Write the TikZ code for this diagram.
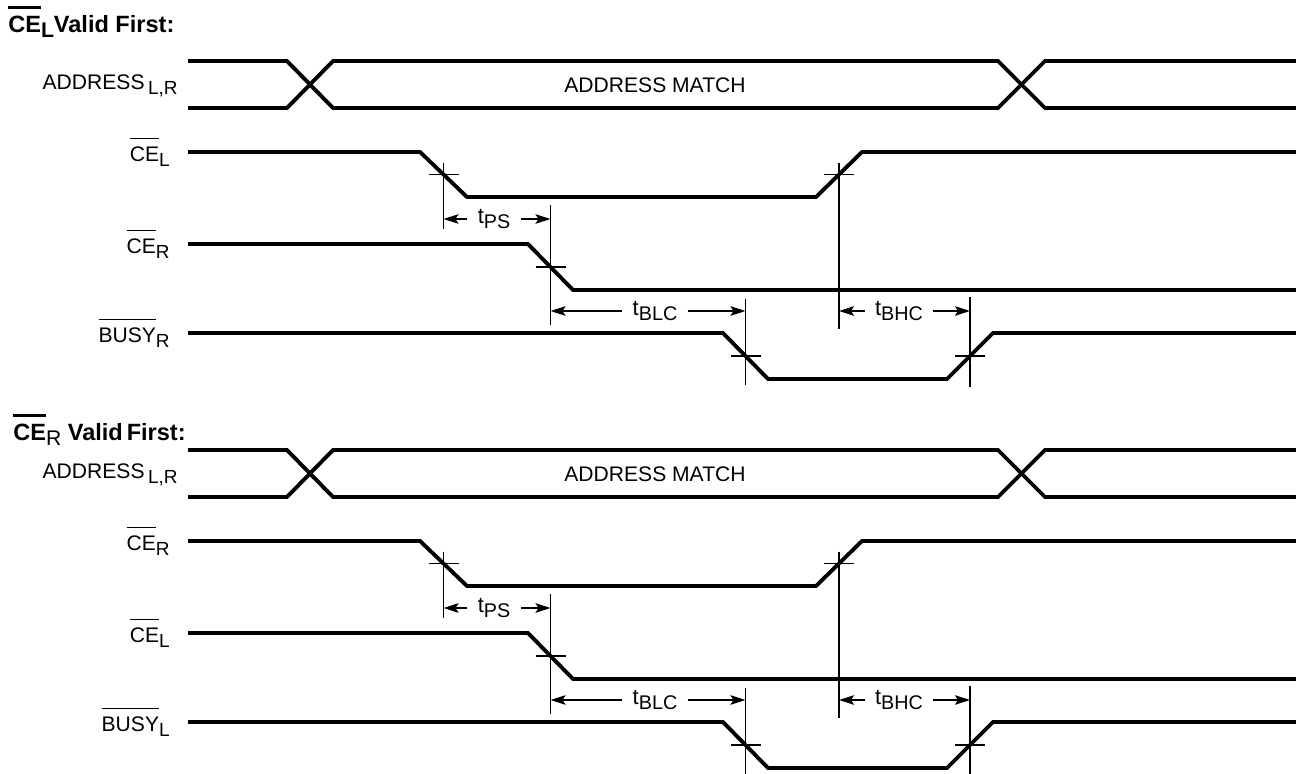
\documentclass[tikz,border=0pt]{standalone}
\usepackage{fontspec}
\setmainfont{Liberation Sans}
\usetikzlibrary{arrows.meta, calc}
\newcommand{\ovl}[2][0.9pt]{\leavevmode\vbox{\hrule height #1\kern 4pt\hbox{#2}}}
\newcommand{\lo}[1]{\raisebox{-0.45ex}{\scalebox{0.9}{#1}}}
\tikzstyle{sigline} = [line width=2.2pt]
\tikzstyle{tickline} = [line width=0.9pt]
\tikzstyle{arrow} = [line width=0.9pt, -{Stealth[length=0.3cm, width=0.19cm, inset=0.06cm]}]
\tikzstyle{siglbl} = [
    anchor=base east, inner sep=0pt,
    font=\fontsize{12}{14}\selectfont]
\tikzstyle{dimlbl} = [
    inner xsep=0.2cm, inner ysep=0pt,
    font=\fontsize{12.5}{14}\selectfont]
\tikzstyle{heading} = [
    anchor=base west, inner sep=0pt,
    font=\bfseries\fontsize{13.4}{15}\selectfont]

\begin{document}
\begin{tikzpicture}[x=0.02cm, y=-0.02cm]
    \useasboundingbox (0,0) rectangle (1296,774);

    \node (head1) [heading] at (8,32) {\ovl[1.4pt]{CE}\lo{L}Valid First:};
    \node (head2) [heading] at (13,440) {\ovl[1.4pt]{CE}\lo{\mdseries R} Valid\,First:};

    \foreach \dy/\sa/\sb [count=\i] in {0/L/R, 389/R/L} {
    \begin{scope}[shift={(0,\dy)}]
        % signal names
        \node (addr\i) [siglbl] at (178,89) {ADDRESS\,\lo{L,R}};
        \node (cea\i) [siglbl] at (170,161) {\ovl{CE}\lo{\sa}};
        \node (ceb\i) [siglbl] at (170,253) {\ovl{CE}\lo{\sb}};
        \node (busy\i) [siglbl] at (170,342) {\ovl{BUSY}\lo{\sb}};
        \node (match\i) [font=\fontsize{12}{14}\selectfont] at (655,85) {ADDRESS MATCH};

        % waveforms
        \draw [sigline] (188,61) -- (287,61) -- (333,108) -- (998,108) -- (1045,61) -- (1296,61);
        \draw [sigline] (188,108) -- (287,108) -- (333,61) -- (998,61) -- (1045,108) -- (1296,108);
        \draw [sigline] (188,152) -- (420,152) -- (467,197) -- (816,197) -- (862,152) -- (1296,152);
        \draw [sigline] (188,244) -- (528,244) -- (573,290) -- (1296,290);
        \draw [sigline] (188,333) -- (723,333) -- (768,379) -- (947,379) -- (993,333) -- (1296,333);

        % edge midpoints
        \coordinate (cefall\i) at (443.5,174.5);
        \coordinate (cerise\i) at (839,174.5);
        \coordinate (cebfall\i) at (550.5,267);
        \coordinate (bfall\i) at (745.5,356);
        \coordinate (brise\i) at (970,356);

        \foreach \c in {cefall,cerise,cebfall,bfall,brise}
            \draw [tickline] (\c\i) +(-15,0) -- +(15,0);
        \draw [tickline] (cefall\i) ++(0,-12) -- ++(0,66);
        \draw [tickline] (cerise\i) ++(0,-12) -- ++(0,166);
        \draw [tickline] (cebfall\i) ++(0,-62) -- ++(0,120);
        \draw [tickline] (bfall\i) ++(0,-57) -- ++(0,86);
        \draw [tickline] (brise\i) ++(0,-59) -- ++(0,90);

        % timing parameters
        \node (tps\i) [dimlbl] at (494,219) {t\lo{PS}};
        \draw [arrow] (tps\i.west) -- (tps\i.west -| cefall\i);
        \draw [arrow] (tps\i.east) -- (tps\i.east -| cebfall\i);

        \node (tblc\i) [dimlbl] at (655,311) {t\lo{BLC}};
        \draw [arrow] (tblc\i.west) -- (tblc\i.west -| cebfall\i);
        \draw [arrow] (tblc\i.east) -- (tblc\i.east -| bfall\i);

        \node (tbhc\i) [dimlbl] at (899,311) {t\lo{BHC}};
        \draw [arrow] (tbhc\i.west) -- (tbhc\i.west -| cerise\i);
        \draw [arrow] (tbhc\i.east) -- (tbhc\i.east -| brise\i);
    \end{scope}
    }
\end{tikzpicture}
\end{document}
